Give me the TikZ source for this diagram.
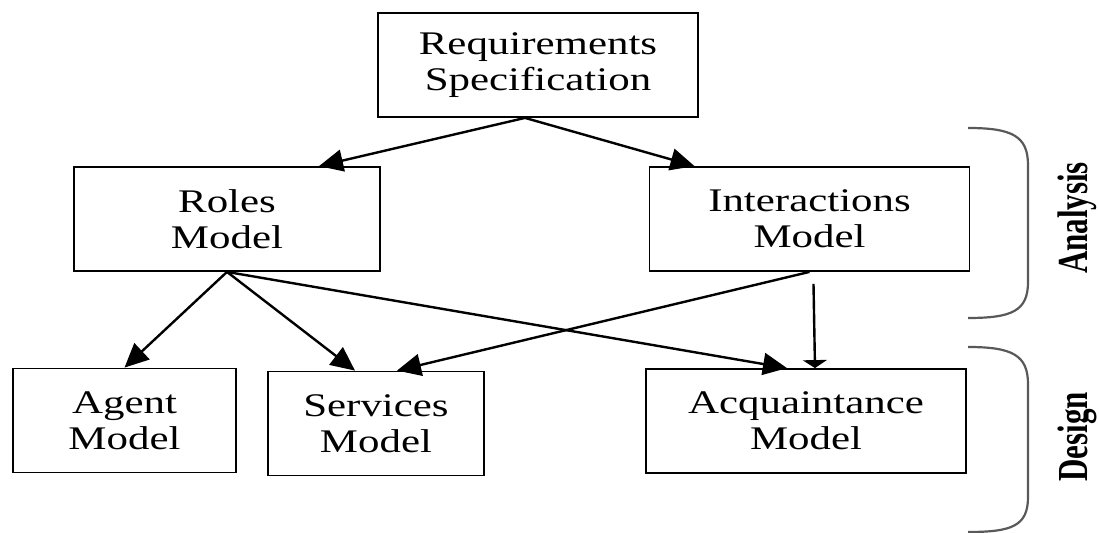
\documentclass[tikz,border=0pt]{standalone}
\usepackage{fontspec}
\setmainfont[FakeStretch=1.3]{Liberation Serif}
\newfontfamily\labelfont{Liberation Serif}
\usetikzlibrary{arrows.meta}
\begin{document}
\begin{tikzpicture}[x=0.5pt,y=-0.5pt,
  box/.style={draw,line width=0.9pt,minimum height=52pt,align=center,
    font=\fontsize{16.5}{18}\selectfont,inner sep=0pt},
  link/.style={line width=1.2pt,-{Triangle[length=12pt,width=11pt]}},
  brace/.style={line width=1.1pt,draw=black!65},
  phase/.style={rotate=90,font=\labelfont\fontsize{15.5}{18}\selectfont\bfseries}]
\useasboundingbox (0,0) rectangle (1099,533);
\node[box,minimum width=160pt] (req) at (538,65) {Requirements\\Specification};
\node[box,minimum width=153pt] (roles) at (227,219) {Roles\\Model};
\node[box,minimum width=160pt] (inter) at (809.5,219) {Interactions\\Model};
\node[box,minimum width=111.5pt] (agent) at (124.5,420.5) {Agent\\Model};
\node[box,minimum width=108pt] (serv) at (376,423.5) {Services\\Model};
\node[box,minimum width=160pt] (acq) at (806,421) {Acquaintance\\Model};
\draw[link] ([xshift=-6.5pt]req.south) -- ([xshift=46pt]roles.north);
\draw[link] ([xshift=-6.5pt]req.south) -- ([xshift=-57.5pt]inter.north);
\draw[link] (roles.south) -- (agent.north);
\draw[link] (roles.south) -- ([xshift=-10.5pt]serv.north);
\draw[link] (roles.south) -- ([xshift=-9.5pt]acq.north);
\draw[link] (inter.south) -- ([xshift=10.5pt]serv.north);
\draw[line width=1.2pt,-{Triangle[length=4pt,width=12pt]}]
  ([xshift=2pt,yshift=-6pt]inter.south) -- ([xshift=4.5pt]acq.north);
% phase brackets
\draw[brace] (968,128) .. controls (1012,128) and (1028,136) .. (1028,165)
  -- (1028,282) .. controls (1028,311) and (1012,318) .. (968,318);
\draw[brace] (968,347) .. controls (1012,347) and (1028,355) .. (1028,384)
  -- (1028,497) .. controls (1028,526) and (1012,532) .. (968,532);
\node[phase] (ana) at (1077,218) {\scalebox{1}[1.38]{Analysis}};
\node[phase] (des) at (1077,437) {\scalebox{1}[1.38]{Design}};
\end{tikzpicture}
\end{document}
